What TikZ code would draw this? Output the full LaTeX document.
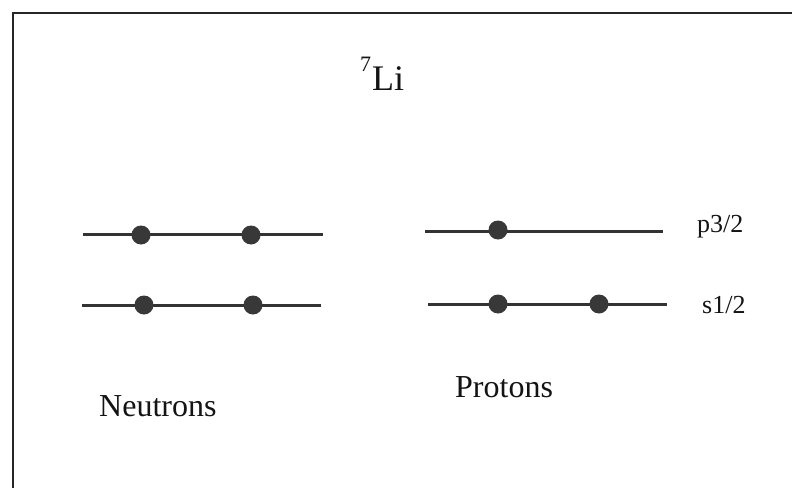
\documentclass[tikz,border=0pt]{standalone}
\usepackage{fontspec}
\setmainfont{Liberation Serif}
\begin{document}
\begin{tikzpicture}[x=1pt,y=-1pt,
  level/.style={draw=black!80,line width=3pt},
  particle/.style={circle,fill=black!78,inner sep=0pt,minimum size=19pt},
  frameline/.style={draw=black!85,line width=2.2pt},
  lbl/.style={inner sep=0pt,anchor=base west,text=black!92}]
\useasboundingbox (0,0) rectangle (792,487);
\clip (0,0) rectangle (792,487);
\fill[white] (0,0) rectangle (792,487);
% frame (right and bottom edges lie outside the picture)
\coordinate (fbl) at (13,520);
\coordinate (ftl) at (13,13);
\coordinate (ftr) at (820,13);
\draw[frameline] (fbl) -- (ftl) -- (ftr);
% title
\node[lbl] (title) at (360,90) {\raisebox{19pt}{\fontsize{22}{26}\selectfont 7}\kern1pt\fontsize{36}{40}\selectfont Li};
% neutron levels
\coordinate (n1a) at (83,234);  \coordinate (n1b) at (323,234);
\coordinate (n2a) at (82,305);  \coordinate (n2b) at (321,305);
\draw[level] (n1a) -- (n1b);
\draw[level] (n2a) -- (n2b);
\node[particle] (n1d1) at (141,235) {};
\node[particle] (n1d2) at (251,235) {};
\node[particle] (n2d1) at (144,305) {};
\node[particle] (n2d2) at (253,305) {};
% proton levels
\coordinate (p1a) at (425,231); \coordinate (p1b) at (663,231);
\coordinate (p2a) at (428,304); \coordinate (p2b) at (667,304);
\draw[level] (p1a) -- (p1b);
\draw[level] (p2a) -- (p2b);
\node[particle] (p1d1) at (498,230) {};
\node[particle] (p2d1) at (498,304) {};
\node[particle] (p2d2) at (599,304) {};
% labels
\node[lbl] (p32) at (697,232) {\fontsize{26}{30}\selectfont p3/2};
\node[lbl] (s12) at (702,313) {\fontsize{26}{30}\selectfont s1/2};
\node[lbl] (neut) at (99,416) {\fontsize{32}{38}\selectfont Neutrons};
\node[lbl] (prot) at (455,397) {\fontsize{32}{38}\selectfont Protons};
\end{tikzpicture}
\end{document}
